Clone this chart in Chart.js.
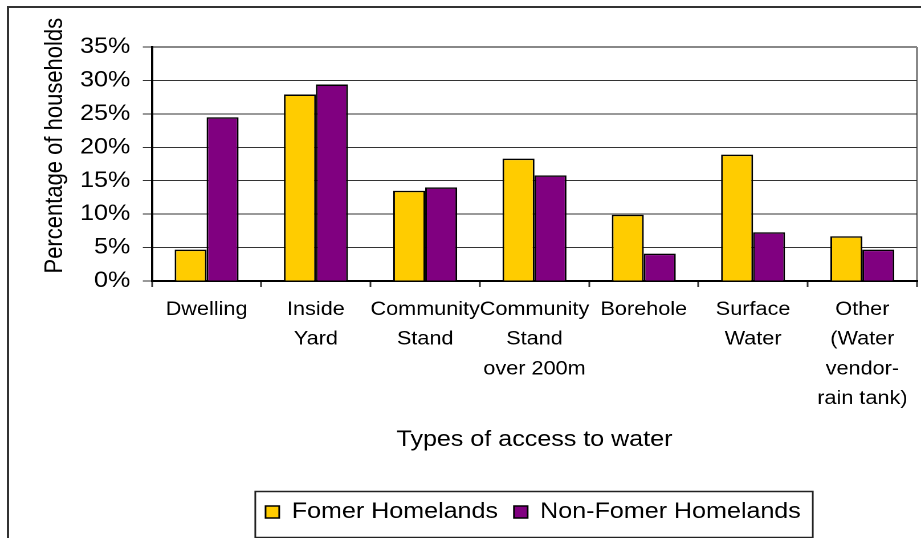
<!DOCTYPE html>
<html>
<head>
<meta charset="utf-8">
<script src="https://cdn.jsdelivr.net/npm/chart.js@4"></script>
<style>
  html, body { margin: 0; padding: 0; background: #fff; overflow: hidden; }
  #wrap { width: 808px; height: 538px; transform: scaleX(1.13985); transform-origin: 0 0; }
</style>
</head>
<body>
<div id="wrap"><canvas id="c"></canvas></div>
<script>
const categories = [
  ["Dwelling"],
  ["Inside", "Yard"],
  ["Community", "Stand"],
  ["Community", "Stand", "over 200m"],
  ["Borehole"],
  ["Surface", "Water"],
  ["Other", "(Water", "vendor-", "rain tank)"]
];
const seriesNames = ["Fomer Homelands", "Non-Fomer Homelands"];
const formerHomelands = [4.7, 27.9, 13.5, 18.3, 9.9, 18.9, 6.7];
const nonFormerHomelands = [24.5, 29.4, 14.0, 15.8, 4.1, 7.3, 4.7];
const yTicks = [0, 5, 10, 15, 20, 25, 30, 35];
const xTitle = "Types of access to water";
const yTitle = "Percentage of households";

const FONT = "'Liberation Sans', Arial, sans-serif";

const framePlugin = {
  id: 'frame',
  beforeDraw(chart) {
    const ctx = chart.ctx;
    ctx.save();
    ctx.fillStyle = '#fff';
    ctx.fillRect(0, 0, chart.width, chart.height);
    ctx.strokeStyle = '#333';
    ctx.lineWidth = 2;
    ctx.strokeRect(7, 7, 2000, 2000);
    ctx.restore();
  },
  afterLayout(chart) {
    const lg = chart.legend;
    if (lg) { lg.left += 65.5; lg.right += 65.5; }
  },
  afterDraw(chart) {
    const lg = chart.legend;
    if (!lg || !lg.legendHitBoxes || !lg.legendHitBoxes.length) return;
    const hb = lg.legendHitBoxes;
    let l = Infinity, r = -Infinity, cy = 0;
    hb.forEach(b => { l = Math.min(l, b.left); r = Math.max(r, b.left + b.width); cy = b.top + b.height / 2; });
    const ctx = chart.ctx;
    ctx.save();
    ctx.strokeStyle = '#222';
    ctx.lineWidth = 1.5;
    ctx.strokeRect(l - 9, cy - 20.5, (r - l) + 19.5, 46);
    ctx.restore();
  }
};

new Chart(document.getElementById('c'), {
  type: 'bar',
  data: {
    labels: categories,
    datasets: [
      { label: seriesNames[0], data: formerHomelands, backgroundColor: '#FFCC00', borderColor: '#000', borderWidth: 1.5, borderSkipped: 'start', barPercentage: 1.0, categoryPercentage: 0.585 },
      { label: seriesNames[1], data: nonFormerHomelands, backgroundColor: '#800080', borderColor: '#000', borderWidth: 1.5, borderSkipped: 'start', barPercentage: 1.0, categoryPercentage: 0.585 }
    ]
  },
  options: {
    responsive: true,
    maintainAspectRatio: false,
    animation: false,
    devicePixelRatio: 2,
    layout: { padding: { left: 0, right: 3.5, top: 47, bottom: 5 } },
    plugins: {
      legend: {
        position: 'bottom',
        labels: {
          color: '#000',
          font: { family: FONT, size: 22 },
          boxWidth: 12, boxHeight: 12, padding: 14,
          generateLabels(chart) {
            return chart.data.datasets.map((ds, i) => ({
              text: ds.label, fillStyle: ds.backgroundColor, strokeStyle: '#000',
              lineWidth: 1.5, hidden: false, datasetIndex: i, fontColor: '#000'
            }));
          }
        }
      },
      tooltip: { enabled: false }
    },
    scales: {
      x: {
        afterFit(scale) { scale.height = 206; },
        grid: {
          display: true,
          drawOnChartArea: true,
          offset: true,
          color: (ctx) => (ctx.index === undefined ? '#888' : 'rgba(0,0,0,0)'),
          lineWidth: 2,
          tickColor: '#333',
          tickWidth: 1.5,
          tickLength: 6
        },
        border: { display: true, color: '#000', width: 2 },
        ticks: {
          autoSkip: false, maxRotation: 0, minRotation: 0, padding: 8,
          color: '#000',
          font: { family: FONT, size: 19, lineHeight: 1.56 }
        },
        title: {
          display: true, text: xTitle, color: '#000',
          font: { family: FONT, size: 22 },
          padding: { top: 0, bottom: 33.8 }
        }
      },
      y: {
        min: 0, max: 35,
        afterFit(scale) { scale.width = 133.3; },
        afterBuildTicks(scale) { scale.ticks = yTicks.map(v => ({ value: v })); },
        grid: {
          color: (ctx) => (ctx.tick && ctx.tick.value === 35 ? '#888' : '#333'),
          lineWidth: (ctx) => (ctx.tick && ctx.tick.value === 35 ? 2 : 1),
          tickColor: '#333',
          tickWidth: 1,
          tickLength: 8
        },
        border: { display: true, color: '#000', width: 2 },
        ticks: {
          padding: 11,
          color: '#000',
          font: { family: FONT, size: 22 },
          callback: (v) => v + '%'
        },
        title: {
          display: true, text: '      ' + yTitle, color: '#000',
          font: { family: FONT, size: 22 },
          padding: { top: 35, bottom: 0 }
        }
      }
    }
  },
  plugins: [framePlugin]
});
</script>
</body>
</html>
